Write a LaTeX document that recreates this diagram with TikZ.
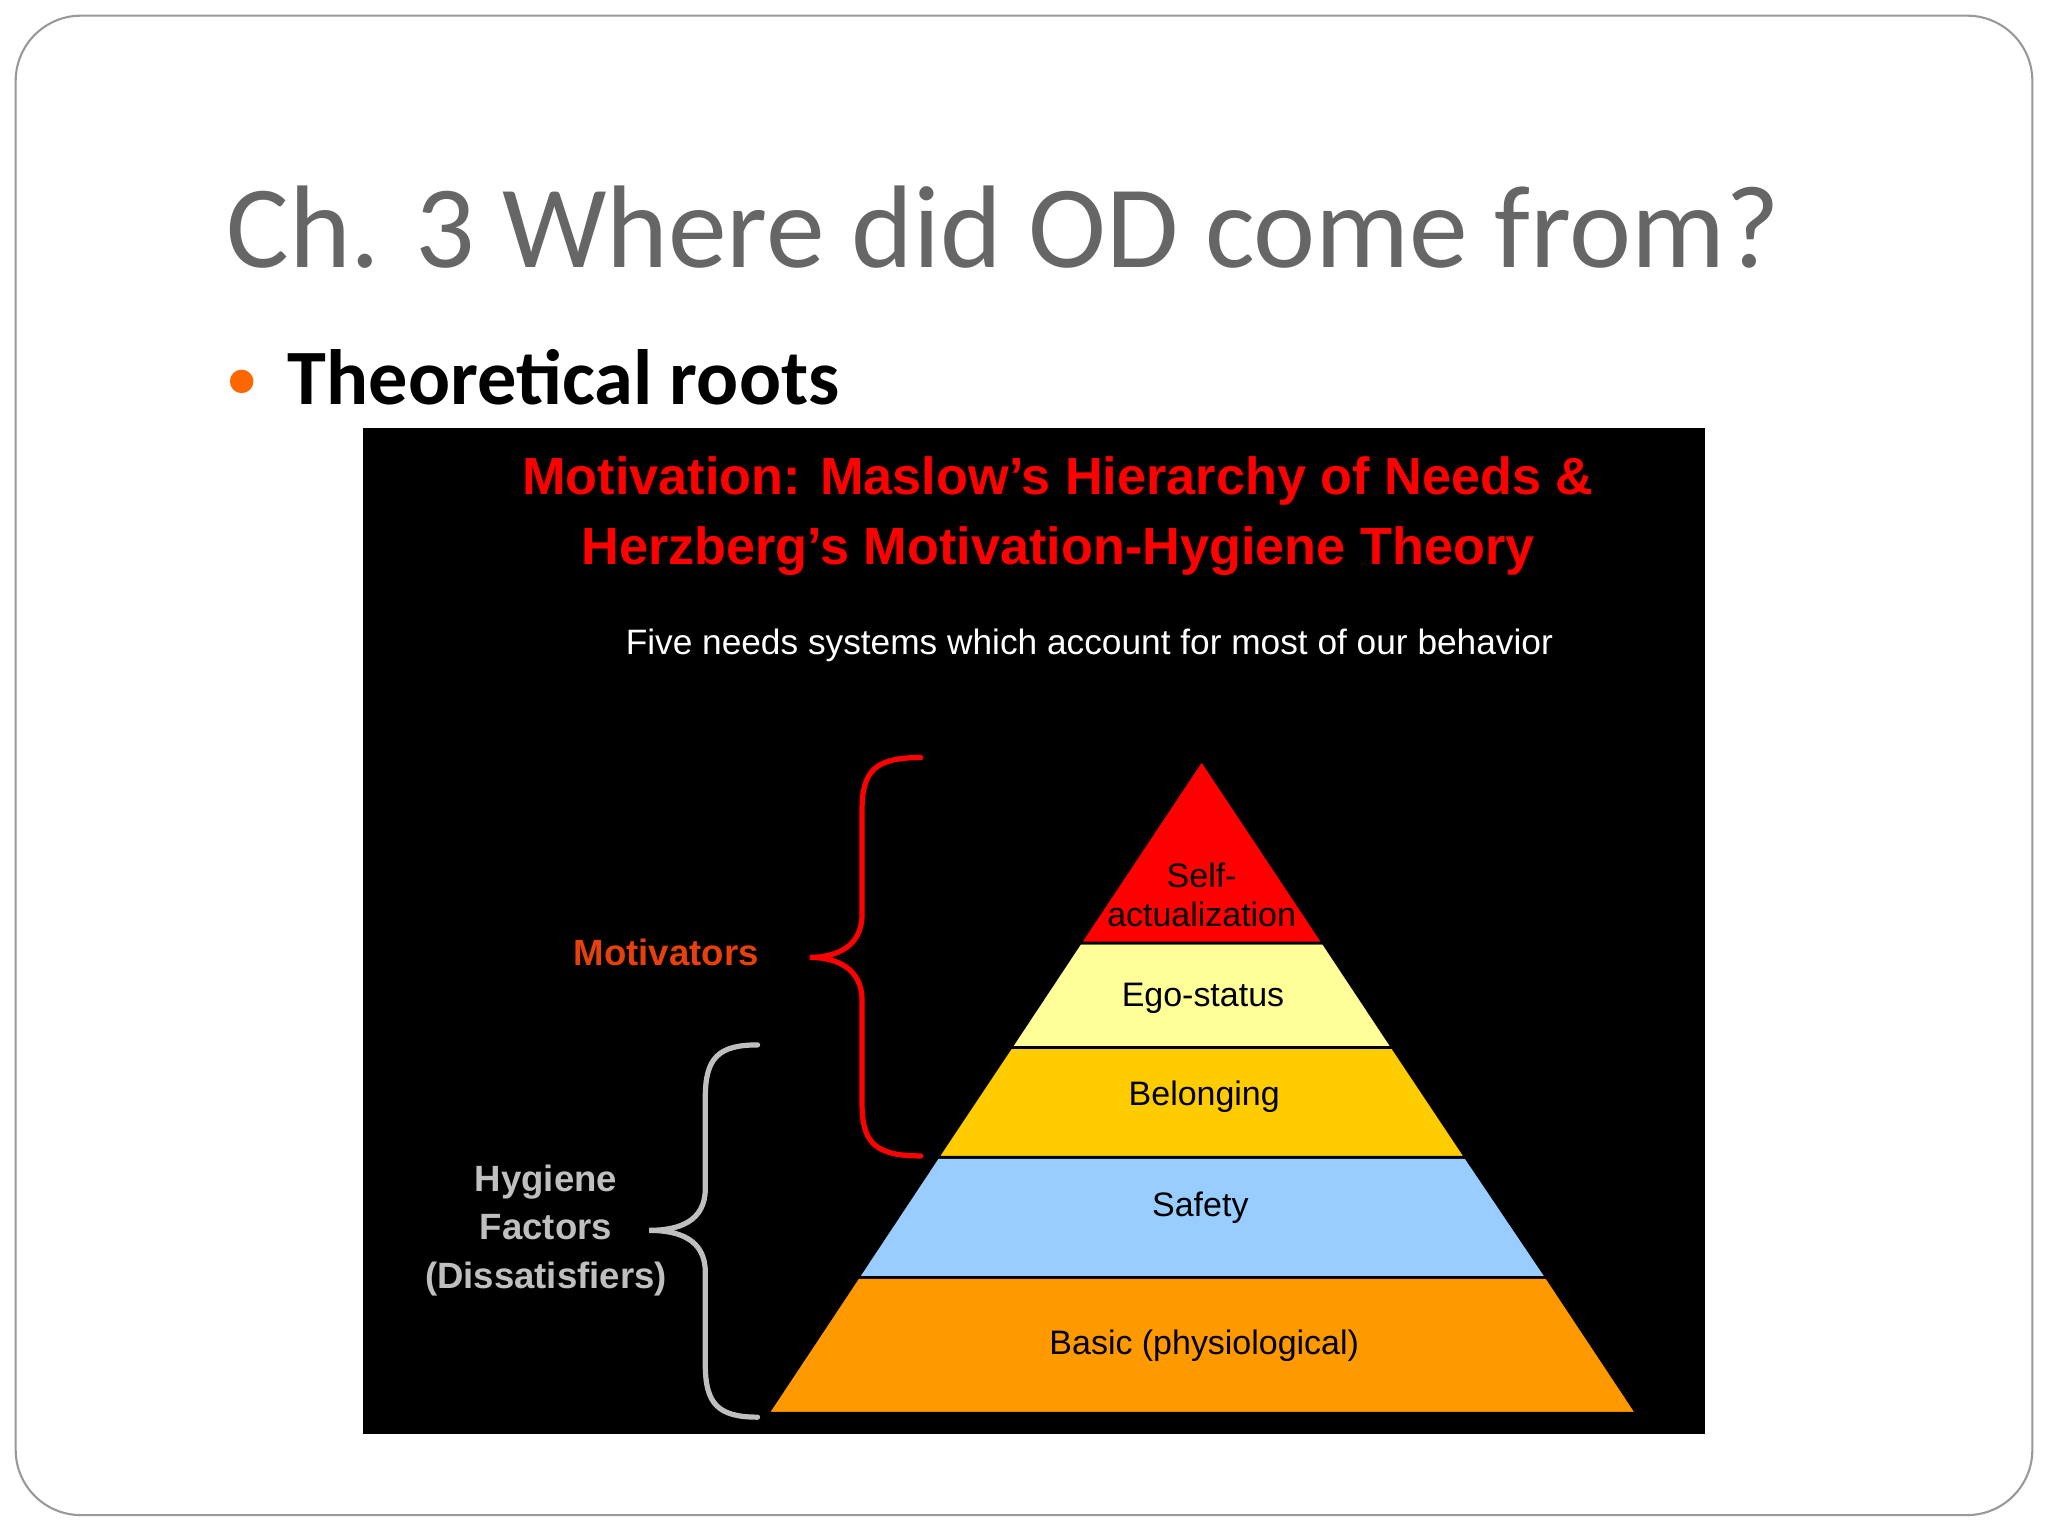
\documentclass[tikz,border=0pt]{standalone}
\usepackage{fontspec}
\setmainfont{Carlito}
\newfontfamily\arialf{Liberation Sans}
\begin{document}
\begin{tikzpicture}[x=0.5pt,y=-0.5pt,
  lvl/.style={draw=black,line width=1pt},
  lab/.style={font=\arialf\fontsize{13}{15}\selectfont,text=black,align=center,inner sep=0},
  brace/.style={line width=2pt,line cap=round,rounded corners=0}]
\useasboundingbox (0,0) rectangle (1568,1176);
\fill[white] (0,0) rectangle (1568,1176);
\draw[gray!80,line width=0.8pt,rounded corners=25pt] (12,12) rectangle (1556,1160);
\node[anchor=base west,inner sep=0,text=black!60,font=\fontsize{45}{50}\selectfont] (title) at (173,205) {Ch. 3 Where did OD come from?};
\fill[orange!80!red] (185,292) circle (4.5pt);
\node[anchor=base west,inner sep=0,font=\bfseries\fontsize{30}{34}\selectfont] (sub) at (220,310) {Theoretical roots};
\fill[black] (278,328) rectangle (1305,1098);
\node[text=red,font=\arialf\bfseries\fontsize{20}{26}\selectfont,align=center,inner sep=0] (h) at (810,395) {Motivation: Maslow’s Hierarchy of Needs \&\\[1pt]Herzberg’s Motivation-Hygiene Theory};
\node[text=white,font=\arialf\fontsize{13.5}{16}\selectfont,inner sep=0] (five) at (834,494) {Five needs systems which account for most of our behavior};
% pyramid
\filldraw[lvl,fill={rgb,255:red,255;green,153;blue,0}] (657,978) -- (1184,978) -- (1253,1082) -- (588,1082) -- cycle;
\filldraw[lvl,fill={rgb,255:red,153;green,204;blue,255}] (718,886) -- (1122,886) -- (1184,978) -- (657,978) -- cycle;
\filldraw[lvl,fill={rgb,255:red,255;green,204;blue,0}] (774,802) -- (1066,802) -- (1122,886) -- (718,886) -- cycle;
\filldraw[lvl,fill={rgb,255:red,255;green,255;blue,153}] (827,722) -- (1013,722) -- (1066,802) -- (774,802) -- cycle;
\filldraw[lvl,fill=red] (920,582) -- (1013,722) -- (827,722) -- cycle;
\node[lab] (l1) at (920,685) {Self-\\actualization};
\node[lab] (l2) at (921,764) {Ego-status};
\node[lab] (l3) at (922,840) {Belonging};
\node[lab] (l4) at (919,925) {Safety};
\node[lab] (l5) at (922,1030) {Basic (physiological)};
% braces
\draw[brace,red] (705,580) .. controls (670,580) and (660,590) .. (660,620) -- (660,700) .. controls (660,725) and (640,733) .. (620,733) .. controls (640,733) and (660,741) .. (660,766) -- (660,845) .. controls (660,875) and (670,885) .. (705,885);
\draw[brace,black!25] (580,800) .. controls (550,800) and (540,810) .. (540,840) -- (540,910) .. controls (540,935) and (520,942) .. (497,942) .. controls (520,942) and (540,949) .. (540,974) -- (540,1045) .. controls (540,1075) and (550,1085) .. (580,1085);
\node[text={rgb,255:red,232;green,64;blue,12},font=\arialf\bfseries\fontsize{14}{16}\selectfont,inner sep=0] (mot) at (510,729) {Motivators};
\node[text=black!25,font=\arialf\bfseries\fontsize{14}{18.5}\selectfont,align=center,inner sep=0] (hyg) at (418,942) {Hygiene\\Factors\\(Dissatisfiers)};
\end{tikzpicture}
\end{document}
